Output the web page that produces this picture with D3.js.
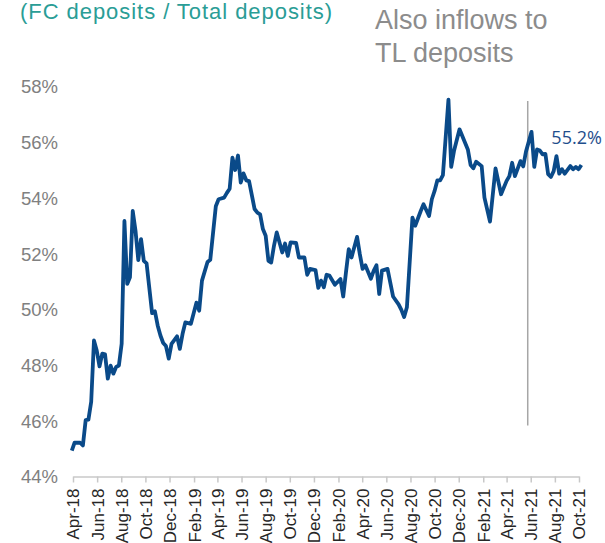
<!DOCTYPE html>
<html>
<head>
<meta charset="utf-8">
<script src="https://cdn.jsdelivr.net/npm/d3@7"></script>
<style>
  html, body { margin: 0; padding: 0; background: #fff; }
  svg { display: block; }
</style>
</head>
<body>
<svg id="chart" width="605" height="543"></svg>
<script>
// ---- data ----
const tickLabels = ["Apr-18","Jun-18","Aug-18","Oct-18","Dec-18","Feb-19","Apr-19","Jun-19","Aug-19","Oct-19","Dec-19","Feb-20","Apr-20","Jun-20","Aug-20","Oct-20","Dec-20","Feb-21","Apr-21","Jun-21","Aug-21","Oct-21"];
const yTicks = [44, 46, 48, 50, 52, 54, 56, 58];
const startDate = "2018-03-29";
// week offsets from startDate (weekly observations)
const weeks = [0,1,3,4,5,6,7,8,9,10,11,12,13,14,15,16,17,18,19,20,21,22,23,24,25,26,27,29,30,31,32,33,34,35,36,38,39,40,41,43,45,46,47,49,50,52,53,55,56,57,58,59,60,61,62,63,64,66,67,68,69,70,71,72,73,74,76,77,78,79,81,82,84,85,86,88,89,90,91,92,93,95,97,98,99,100,101,103,104,105,106,108,109,110,111,112,114,116,118,119,120,121,123,124,126,127,129,130,131,132,133,134,136,137,138,140,142,143,144,145,146,148,149,151,153,155,157,158,159,160,162,163,164,166,167,168,169,170,171,172,173,174,175,176,177,178,180,181,182,183,184];
const values = [44.95,45.23,45.23,45.13,46.04,46.06,46.7,48.9,48.54,47.97,48.43,48.40,47.53,48.0,47.71,47.95,48.0,48.78,53.19,50.93,51.17,53.55,52.84,51.79,52.54,51.76,51.67,49.88,49.95,49.44,49.08,48.81,48.7,48.25,48.78,49.05,48.6,49.14,49.55,49.5,50.26,49.97,51.05,51.72,51.8,53.72,53.97,54.03,54.2,54.35,55.46,55.02,55.54,54.57,54.9,54.65,54.62,53.62,53.49,53.43,52.9,52.66,51.76,51.70,52.3,52.78,52.06,52.38,51.94,52.42,52.4,51.88,51.88,51.26,51.47,51.43,50.79,51.05,50.81,51.26,51.23,50.9,51.11,50.48,51.35,52.18,51.88,52.62,52.0,51.47,51.6,51.12,51.4,51.6,50.57,51.41,51.47,50.48,50.2,50.0,49.74,50.09,53.31,53.02,53.55,53.79,53.37,53.97,54.27,54.65,54.65,54.84,57.55,55.13,55.7,56.48,56.0,55.76,55.2,55.08,55.32,55.16,54.03,53.17,55.08,54.15,54.63,54.80,55.28,54.8,55.34,55.15,55.68,56.39,55.13,55.76,55.72,55.58,55.6,54.87,54.77,54.98,55.52,54.89,55.05,54.89,55.16,55.05,55.13,55.05,55.2];
const markerDate = "Jun-21";
const lastLabel = "55.2%";
const titleText = "(FC deposits / Total deposits)";
const noteLines = ["Also inflows to", "TL deposits"];

// ---- chart ----
const svg = d3.select("#chart");
const parseTick = d3.timeParse("%b-%y");
const fmtTick = d3.timeFormat("%b-%y");
const start = d3.timeParse("%Y-%m-%d")(startDate);
const data = weeks.map((w, i) => ({ date: d3.timeDay.offset(start, w * 7), v: values[i] }));
const tickDates = tickLabels.map(parseTick);

const x = d3.scaleTime().domain([tickDates[0], tickDates[tickDates.length - 1]]).range([73, 579]);
const y = d3.scaleLinear().domain([44, 58]).range([477, 87]);

// title
svg.append("text")
  .attr("x", 20).attr("y", 19)
  .attr("font-family", "Liberation Sans, Arial, sans-serif")
  .attr("font-size", 22)
  .attr("fill", "#2a9d96")
  .attr("textLength", 312).attr("lengthAdjust", "spacing")
  .text(titleText);

// note
svg.append("g").selectAll("text").data(noteLines).join("text")
  .attr("x", 375).attr("y", (d, i) => 29 + i * 33)
  .attr("font-family", "Liberation Sans, Arial, sans-serif")
  .attr("font-size", 27)
  .attr("fill", "#8c8c8c")
  .text(d => d);

// y axis labels
svg.append("g").selectAll("text").data(yTicks).join("text")
  .attr("x", 58).attr("y", d => y(d))
  .attr("dy", "0.35em")
  .attr("text-anchor", "end")
  .attr("font-family", "Liberation Sans, Arial, sans-serif")
  .attr("font-size", 18.5)
  .attr("fill", "#808080")
  .text(d => d + "%");

// x axis
const xAxis = svg.append("g")
  .attr("transform", "translate(0,476.5)")
  .call(d3.axisBottom(x).tickValues(tickDates).tickFormat(fmtTick).tickSize(6).tickSizeOuter(0));
xAxis.select(".domain").attr("stroke", "#c8c8c8").attr("stroke-width", 1.5);
xAxis.selectAll(".tick line").attr("stroke", "#c8c8c8").attr("stroke-width", 1.5);
xAxis.selectAll(".tick text")
  .attr("transform", "rotate(-90)")
  .attr("text-anchor", "end")
  .attr("x", -12).attr("y", 0).attr("dy", "0.35em")
  .attr("font-family", "Liberation Sans, Arial, sans-serif")
  .attr("font-size", 17)
  .attr("fill", "#262626");

// vertical marker
const mx = x(parseTick(markerDate)) - 3;
svg.append("line")
  .attr("x1", mx).attr("x2", mx)
  .attr("y1", y(57.5)).attr("y2", y(45.85))
  .attr("stroke", "#a6a6a6").attr("stroke-width", 1.5);

// line
svg.append("path")
  .datum(data)
  .attr("fill", "none")
  .attr("stroke", "#0a4a89")
  .attr("stroke-width", 3.8)
  .attr("stroke-linejoin", "round")
  .attr("d", d3.line().x(d => x(d.date)).y(d => y(d.v)));

// last value label
const last = data[data.length - 1];
svg.append("text")
  .attr("x", x(last.date) - 30).attr("y", y(last.v) - 21)
  .attr("font-family", "Open Sans, sans-serif")
  .attr("font-size", 18)
  .attr("fill", "#1f4e8c")
  .text(lastLabel);
</script>
</body>
</html>
